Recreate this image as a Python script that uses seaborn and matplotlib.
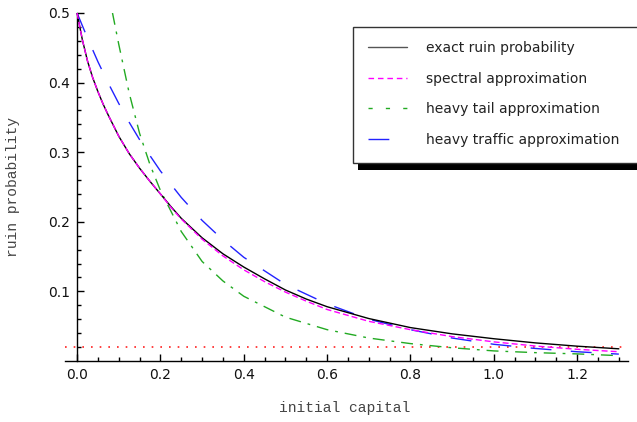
import numpy as np
import pandas as pd
import matplotlib
matplotlib.use("Agg")
import matplotlib.pyplot as plt
from matplotlib.lines import Line2D
from matplotlib.patches import Rectangle
from matplotlib.ticker import FixedLocator
import seaborn as sns

# ---- data ----
x_exact = [0, 0.0125, 0.025, 0.0375, 0.05, 0.0625, 0.075, 0.1, 0.125, 0.15, 0.175, 0.2, 0.225, 0.25,
           0.3, 0.35, 0.4, 0.45, 0.5, 0.55, 0.6, 0.7, 0.8, 0.9, 1.0, 1.1, 1.2, 1.3]
y_exact = [0.5, 0.462, 0.431, 0.407, 0.387, 0.369, 0.353, 0.323, 0.298, 0.277, 0.258, 0.240, 0.222, 0.205,
           0.177, 0.154, 0.135, 0.118, 0.102, 0.089, 0.078, 0.061, 0.048, 0.039, 0.032, 0.026, 0.0213, 0.0175]

x_spec = [0, 0.0125, 0.025, 0.0375, 0.05, 0.0625, 0.075, 0.1, 0.125, 0.15, 0.175, 0.2, 0.225, 0.25,
          0.3, 0.35, 0.4, 0.45, 0.5, 0.55, 0.6, 0.7, 0.8, 0.9, 1.0, 1.1, 1.2, 1.3]
y_spec = [0.5, 0.462, 0.431, 0.407, 0.387, 0.369, 0.353, 0.323, 0.298, 0.277, 0.258, 0.240, 0.221, 0.204,
          0.175, 0.151, 0.131, 0.114, 0.099, 0.086, 0.074, 0.057, 0.045, 0.035, 0.0275, 0.0215, 0.0168, 0.0133]

x_tail = [0.085, 0.1, 0.125, 0.15, 0.175, 0.2, 0.25, 0.3, 0.35, 0.4, 0.5, 0.6, 0.7, 0.8, 0.9, 1.0, 1.1, 1.2, 1.3]
y_tail = [0.5, 0.455, 0.385, 0.327, 0.282, 0.245, 0.186, 0.143, 0.115, 0.093, 0.063, 0.045, 0.033, 0.025, 0.019, 0.0145, 0.012, 0.0102, 0.0077]

x_traffic = [0, 0.025, 0.05, 0.075, 0.1, 0.125, 0.15, 0.175, 0.2, 0.25, 0.3, 0.35, 0.4, 0.5, 0.6, 0.7, 0.8, 0.9, 1.0, 1.1, 1.2, 1.3]
y_traffic = [0.5, 0.464, 0.430, 0.399, 0.370, 0.343, 0.318, 0.295, 0.273, 0.235, 0.202, 0.174, 0.149, 0.110, 0.082, 0.060, 0.045, 0.033, 0.024, 0.018, 0.0133, 0.0099]

level_value = 0.02

labels = ["exact ruin probability", "spectral approximation",
          "heavy tail approximation", "heavy traffic approximation"]
x_ticks = [0.0, 0.2, 0.4, 0.6, 0.8, 1.0, 1.2]
y_ticks = [0.1, 0.2, 0.3, 0.4, 0.5]

# ---- styling ----
sns.set_style("white")
plt.rcParams["font.family"] = ["DejaVu Sans"]

W, H = 637, 422
fig = plt.figure(figsize=(W / 100, H / 100), dpi=100)
ax_l, ax_r, ax_t, ax_b = 65, 628, 13, 361
ax = fig.add_axes([ax_l / W, 1 - ax_b / H, (ax_r - ax_l) / W, (ax_b - ax_t) / H])

c_exact = "#000000"
c_spec = "#ff00ff"
c_tail = "#22aa22"
c_traffic = "#2222ff"
c_level = "#ff2020"

sns.lineplot(x=x_exact, y=y_exact, ax=ax, color=c_exact, lw=1.0, estimator=None, zorder=3)
sns.lineplot(x=x_spec, y=y_spec, ax=ax, color=c_spec, lw=1.0, estimator=None,
             linestyle=(0, (4.3, 2.2)), zorder=4)
sns.lineplot(x=x_tail, y=y_tail, ax=ax, color=c_tail, lw=1.0, estimator=None,
             linestyle=(0, (8.6, 5.0, 2.0, 5.0)), zorder=2)
sns.lineplot(x=x_traffic, y=y_traffic, ax=ax, color=c_traffic, lw=1.0, estimator=None,
             linestyle=(0, (15, 14)), zorder=2)
ax.axhline(level_value, color=c_level, lw=1.2, linestyle=(0, (1.0, 4.2)), zorder=1)

ax.set_xlim(-0.029, 1.322)
ax.set_ylim(0, 0.5)

for s in ["top", "right"]:
    ax.spines[s].set_visible(False)
ax.spines["left"].set_position(("data", 0))
for s in ["left", "bottom"]:
    ax.spines[s].set_color("black")
    ax.spines[s].set_linewidth(1.0)

ax.xaxis.set_major_locator(FixedLocator(x_ticks))
ax.set_xticklabels([f"{v:.1f}" for v in x_ticks])
ax.xaxis.set_minor_locator(FixedLocator([v for v in np.arange(0.05, 1.31, 0.05) if round(v / 0.2, 6) % 1 != 0]))
ax.yaxis.set_major_locator(FixedLocator(y_ticks))
ax.set_yticklabels([f"{v:.1f}" for v in y_ticks])
ax.yaxis.set_minor_locator(FixedLocator([0.02, 0.04, 0.06, 0.08, 0.12, 0.14, 0.16, 0.18,
                                         0.22, 0.24, 0.26, 0.28, 0.32, 0.34, 0.36, 0.38,
                                         0.42, 0.44, 0.46, 0.48]))
ax.tick_params(which="both", direction="in", color="black", width=1.0,
               labelsize=10, labelcolor="#111111", left=True, bottom=True)
ax.tick_params(which="major", length=5, pad=5)
ax.tick_params(which="minor", length=2.8)

mono = ["Liberation Mono", "DejaVu Sans Mono"]
ax.set_xlabel("initial capital", family=mono, fontsize=10.5, color="#444444")
ax.set_ylabel("ruin probability", family=mono, fontsize=10.5, color="#444444")
ax.xaxis.set_label_coords((345 - ax_l) / (ax_r - ax_l), (ax_b - 401) / (ax_b - ax_t))
ax.yaxis.set_label_coords((20 - ax_l) / (ax_r - ax_l), 0.5)

# ---- legend with black drop shadow ----
bx0, by0, bx1, by1 = 353, 27, 700, 163
fig.patches.append(Rectangle(((bx0 + 5) / W, 1 - (by1 + 7) / H), (bx1 - bx0) / W, (by1 - by0) / H,
                             transform=fig.transFigure, facecolor="black", edgecolor="none", zorder=5))
fig.patches.append(Rectangle((bx0 / W, 1 - by1 / H), (bx1 - bx0) / W, (by1 - by0) / H,
                             transform=fig.transFigure, facecolor="white", edgecolor="#333333",
                             lw=1.0, zorder=6))

handles = [
    Line2D([], [], color="#555555", lw=1.0),
    Line2D([], [], color=c_spec, lw=1.0, linestyle=(0, (4.0, 2.8))),
    Line2D([], [], color=c_tail, lw=1.0, linestyle=(0, (3.0, 9.5))),
    Line2D([], [], color=c_traffic, lw=1.0, linestyle=(0, (15, 14))),
]
leg = fig.legend(handles, labels, loc="upper left",
                 bbox_to_anchor=(368 / W, 1 - 41 / H), bbox_transform=fig.transFigure,
                 frameon=False, fontsize=10, borderpad=0, borderaxespad=0,
                 handlelength=2.8, handletextpad=1.35, labelspacing=1.2,
                 labelcolor="#222222")
leg.set_zorder(10)

fig.savefig("out.png", dpi=100)
